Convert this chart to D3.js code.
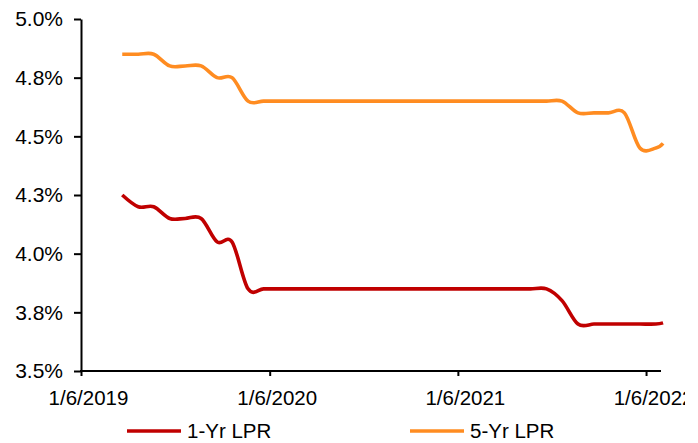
<!DOCTYPE html>
<html>
<head>
<meta charset="utf-8">
<script src="https://cdn.jsdelivr.net/npm/d3@7"></script>
<style>
  html, body { margin: 0; padding: 0; background: #fff; }
  svg { display: block; }
  text { font-family: "Liberation Sans", Arial, sans-serif; fill: #000; }
</style>
</head>
<body>
<svg id="chart" width="698" height="443"></svg>
<script>
// Monthly Loan Prime Rate fixings (published on the 20th)
const fixingDates = [
  "2019-08-20","2019-09-20","2019-10-20","2019-11-20","2019-12-20",
  "2020-01-20","2020-02-20","2020-03-20","2020-04-20","2020-05-20","2020-06-20",
  "2020-07-20","2020-08-20","2020-09-20","2020-10-20","2020-11-20","2020-12-20",
  "2021-01-20","2021-02-20","2021-03-20","2021-04-20","2021-05-20","2021-06-20",
  "2021-07-20","2021-08-20","2021-09-20","2021-10-20","2021-11-20","2021-12-20",
  "2022-01-20","2022-02-20","2022-03-20","2022-04-20","2022-05-20","2022-06-20",
  "2022-07-04"
];
const lpr1y = [
  4.25, 4.20, 4.20, 4.15, 4.15,
  4.15, 4.05, 4.05, 3.85, 3.85, 3.85,
  3.85, 3.85, 3.85, 3.85, 3.85, 3.85,
  3.85, 3.85, 3.85, 3.85, 3.85, 3.85,
  3.85, 3.85, 3.85, 3.85, 3.85, 3.80,
  3.70, 3.70, 3.70, 3.70, 3.70, 3.70,
  3.705
];
const lpr5y = [
  4.85, 4.85, 4.85, 4.80, 4.80,
  4.80, 4.75, 4.75, 4.65, 4.65, 4.65,
  4.65, 4.65, 4.65, 4.65, 4.65, 4.65,
  4.65, 4.65, 4.65, 4.65, 4.65, 4.65,
  4.65, 4.65, 4.65, 4.65, 4.65, 4.65,
  4.60, 4.60, 4.60, 4.60, 4.45, 4.45,
  4.47
];
const seriesNames = ["1-Yr LPR", "5-Yr LPR"];
const seriesColors = ["#C00000", "#FF8C21"];

const yTicks = [3.5, 3.75, 4.0, 4.25, 4.5, 4.75, 5.0];
const yTickLabels = ["3.5%", "3.8%", "4.0%", "4.3%", "4.5%", "4.8%", "5.0%"];
const xTickDates = ["2019-06-01", "2020-06-01", "2021-06-01", "2022-06-01"];
const xTickLabels = ["1/6/2019", "1/6/2020", "1/6/2021", "1/6/2022"];

const parse = d3.utcParse("%Y-%m-%d");
const svg = d3.select("#chart");

const plot = { left: 81, right: 661, top: 19, bottom: 371 };

const x = d3.scaleUtc()
  .domain([parse("2019-06-01"), parse("2022-06-30")])
  .range([plot.left, plot.right]);
const y = d3.scaleLinear()
  .domain([3.5, 5.0])
  .range([plot.bottom, plot.top]);

// whole-chart clip (the last date label runs past the chart edge)
svg.append("defs").append("clipPath").attr("id", "chartClip")
  .append("rect").attr("x", 0).attr("y", 0).attr("width", 685).attr("height", 443);
const root = svg.append("g").attr("clip-path", "url(#chartClip)");

// y axis
const yAxis = d3.axisLeft(y)
  .tickValues(yTicks)
  .tickFormat((d, i) => yTickLabels[i])
  .tickSizeInner(7).tickSizeOuter(0).tickPadding(11);
const gy = root.append("g").attr("transform", `translate(${plot.left},0)`).call(yAxis);
gy.select(".domain").attr("stroke", "#000").attr("stroke-width", 2);
gy.selectAll(".tick line").attr("stroke", "#000").attr("stroke-width", 2);
gy.selectAll(".tick text").attr("font-size", 21).attr("font-family", null);

// x axis
const xAxis = d3.axisBottom(x)
  .tickValues(xTickDates.map(parse))
  .tickFormat((d, i) => xTickLabels[i])
  .tickSizeInner(5).tickSizeOuter(0).tickPadding(14);
const gx = root.append("g").attr("transform", `translate(0,${plot.bottom})`).call(xAxis);
gx.select(".domain").attr("stroke", "#000").attr("stroke-width", 2)
  .attr("d", `M${plot.left - 1},0H${plot.right}`);
gx.selectAll(".tick line").attr("stroke", "#000").attr("stroke-width", 2);
gx.selectAll(".tick text").attr("font-size", 20.5).attr("font-family", null).attr("dx", 7);

// series lines (smoothed)
const line = d3.line()
  .x(d => x(d.date))
  .y(d => y(d.value))
  .curve(d3.curveCardinal.tension(0));

[lpr1y, lpr5y].forEach((values, s) => {
  const pts = values.map((v, i) => ({ date: parse(fixingDates[i]), value: v }));
  root.append("path")
    .datum(pts)
    .attr("fill", "none")
    .attr("stroke", seriesColors[s])
    .attr("stroke-width", 3.6)
    .attr("stroke-linejoin", "round")
    .attr("d", line);
});

// legend
const legendX = [127, 410];
const legend = root.append("g");
seriesNames.forEach((name, i) => {
  const g = legend.append("g").attr("transform", `translate(${legendX[i]},431)`);
  g.append("line").attr("x1", 0).attr("x2", 54).attr("y1", 0).attr("y2", 0)
    .attr("stroke", seriesColors[i]).attr("stroke-width", 3.6);
  g.append("text").attr("x", 60).attr("y", 0).attr("dy", "0.36em")
    .attr("font-size", 20.5).text(name);
});
</script>
</body>
</html>
